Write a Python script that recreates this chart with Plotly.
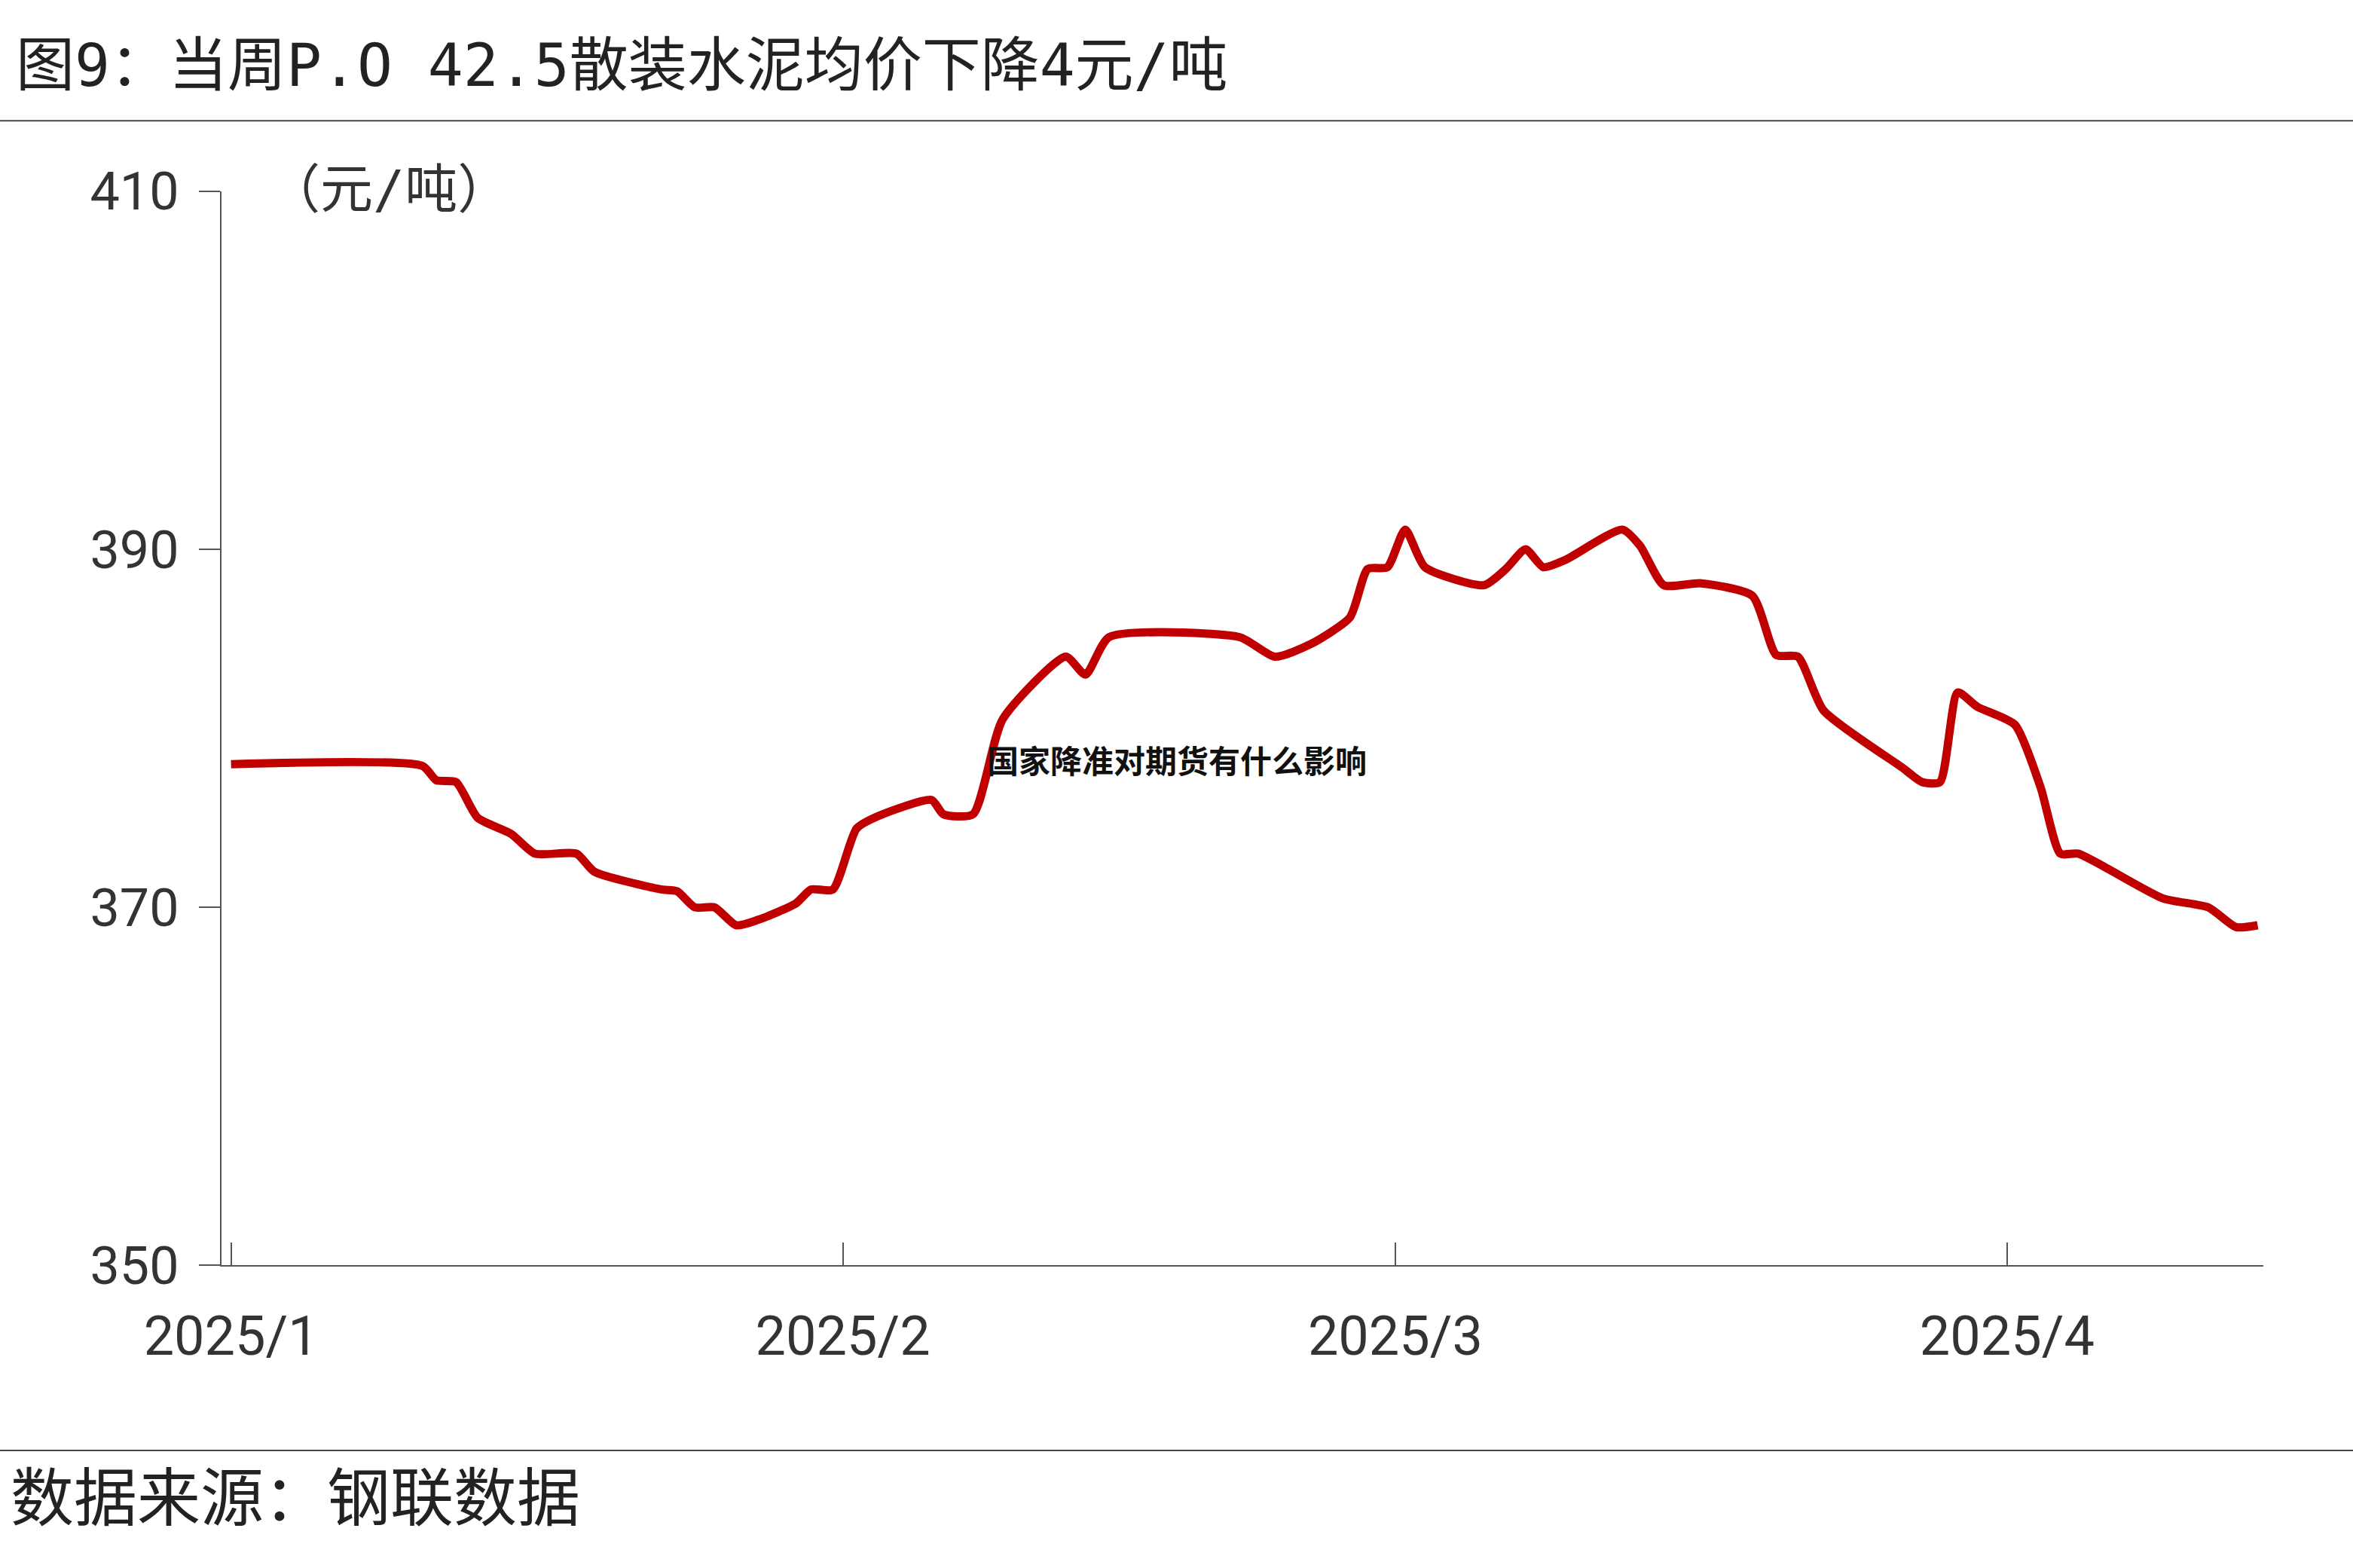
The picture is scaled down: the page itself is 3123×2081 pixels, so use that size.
import plotly.graph_objects as go
import pandas as pd

day_offsets = [0,9.7,10.4,11.4,12.5,14.2,15.4,17.5,18.4,21.8,22.6,23.5,24.5,25.6,26.7,28.6,29.4,30.5,31.7,32.8,35.5,36.1,37.6,39.1,42.3,43.3,44.5,51.1,52.9,54.7,56.7,57.6,58.6,59.5,60.5,63.5,64.6,65.6,66.5,67.6,70.5,71.4,72.6,74.5,77.1,78.3,79.4,80.7,84.7,85.7,86.6,87.5,88.5,90.4,91.7,92.7,93.6,97.9,100.2,101.6,102.7]
prices = [378.0,377.9,377.1,377.0,375.0,374.1,373.0,373.0,372.0,371.0,370.9,370.0,370.0,369.0,369.3,370.2,371.0,371.0,374.4,375.1,376.0,375.2,375.2,380.5,384.0,383.0,385.1,385.1,384.0,384.7,386.2,388.9,389.0,391.1,389.0,388.0,388.9,390.0,389.0,389.4,391.1,390.2,388.0,388.1,387.4,384.1,384.0,381.0,377.8,377.0,377.0,382.0,381.2,380.2,376.7,373.0,373.0,370.5,370.0,368.9,369.0]
tick_dates = ["2025-01-01","2025-02-01","2025-03-01","2025-04-01"]
tick_labels = ["2025/1","2025/2","2025/3","2025/4"]
y_ticks = [350,370,390,410]

dates = pd.Timestamp("2025-01-01") + pd.to_timedelta(day_offsets, unit="D")
font = "Noto Sans CJK SC"
mono = "DejaVu Sans Mono, Noto Sans CJK SC"
fig = go.Figure(go.Scatter(x=dates, y=prices, mode="lines",
    line=dict(color="#C00000", width=11, shape="spline", smoothing=0.6)))
fig.update_layout(
    width=3123, height=2081, margin=dict(l=0, r=0, t=0, b=0, pad=0),
    paper_bgcolor="white", plot_bgcolor="white", showlegend=False,
    font=dict(family=font, color="#222"),
    xaxis=dict(domain=[0.094, 0.962], range=["2024-12-31 12:00", "2025-04-14"], automargin=False,
               tickvals=tick_dates, ticktext=tick_labels, ticks="inside", ticklen=30,
               tickwidth=2, tickcolor="#555", showline=True, linecolor="#555", linewidth=2,
               showgrid=False, tickfont=dict(size=72, family="Roboto", color="#333"), ticklabelstandoff=30),
    yaxis=dict(domain=[0.193, 0.878], range=[350, 410], tickvals=y_ticks, automargin=False,
               ticks="outside", ticklen=28, tickwidth=2, tickcolor="#555",
               showline=True, linecolor="#555", linewidth=2, showgrid=False,
               tickfont=dict(size=70, family="Roboto", color="#333"), ticklabelstandoff=12),
)
fig.add_annotation(xref="paper", yref="paper", x=0.006, y=0.958, xanchor="left", yanchor="middle",
    text="图9：当周P.O 42.5散装水泥均价下降4元/吨", showarrow=False, font=dict(size=78, family=mono, color="#222"))
fig.add_annotation(xref="paper", yref="paper", x=0.113, y=0.879, xanchor="left", yanchor="middle",
    text="（元/吨）", showarrow=False, font=dict(size=70, family=mono, color="#333"))
fig.add_annotation(xref="paper", yref="paper", x=0.004, y=0.044, xanchor="left", yanchor="middle",
    text="数据来源：钢联数据", showarrow=False, font=dict(size=84, family=mono, color="#222"))
fig.add_annotation(xref="paper", yref="paper", x=0.5, y=0.516, xanchor="center", yanchor="middle",
    text="<b>国家降准对期货有什么影响</b>", showarrow=False, font=dict(size=42, family=font, color="#111"))
fig.add_shape(type="line", xref="paper", yref="paper", x0=0, x1=1, y0=0.923, y1=0.923, line=dict(color="#444", width=2))
fig.add_shape(type="line", xref="paper", yref="paper", x0=0, x1=1, y0=0.075, y1=0.075, line=dict(color="#444", width=2))
html = fig.to_html(full_html=True, config={"displayModeBar": False})
html = html.replace("<head>", "<head><style>html,body{margin:0;padding:0;overflow:hidden;}</style>", 1)
open("out.html", "w", encoding="utf-8").write(html)
